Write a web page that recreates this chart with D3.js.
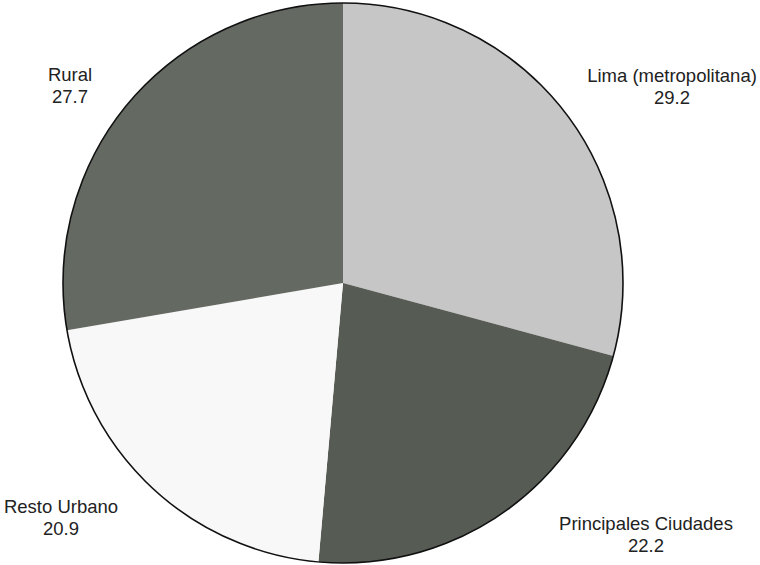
<!DOCTYPE html>
<html><head><meta charset="utf-8">
<script src="https://cdn.jsdelivr.net/npm/d3@7"></script>
<style>body{margin:0;background:#fff}svg{display:block}</style>
</head><body>
<script>
const categories = ["Lima (metropolitana)", "Principales Ciudades", "Resto Urbano", "Rural"];
const values = [29.2, 22.2, 20.9, 27.7];
const valueLabels = ["29.2", "22.2", "20.9", "27.7"];
const colors = ["#c6c6c6", "#565b54", "#f8f8f8", "#646962"];
const labelPos = [[672, 82], [646, 530], [61, 513], [70, 81]];

const W = 760, H = 565, cx = 343, cy = 283, R = 280;
const svg = d3.select("body").append("svg").attr("width", W).attr("height", H);
const data = categories.map((c, i) => ({c, v: values[i], l: valueLabels[i], i}));
const pie = d3.pie().value(d => d.v).sort(null);
const arc = d3.arc().innerRadius(0).outerRadius(R);
const g = svg.append("g").attr("transform", `translate(${cx},${cy})`);
g.selectAll("path").data(pie(data)).join("path")
  .attr("d", arc).attr("fill", d => colors[d.data.i]);
g.append("circle").attr("r", R).attr("fill", "none").attr("stroke", "#111").attr("stroke-width", 1.6);

const t = svg.selectAll("text.lab").data(data).join("text").attr("class", "lab")
  .attr("text-anchor", "middle")
  .attr("font-family", "Liberation Sans, Arial, sans-serif").attr("font-size", 18.5).attr("fill", "#222");
t.append("tspan").attr("x", d => labelPos[d.i][0]).attr("y", d => labelPos[d.i][1]).text(d => d.c);
t.append("tspan").attr("x", d => labelPos[d.i][0]).attr("y", d => labelPos[d.i][1] + 22).text(d => d.l);
</script>
</body></html>
